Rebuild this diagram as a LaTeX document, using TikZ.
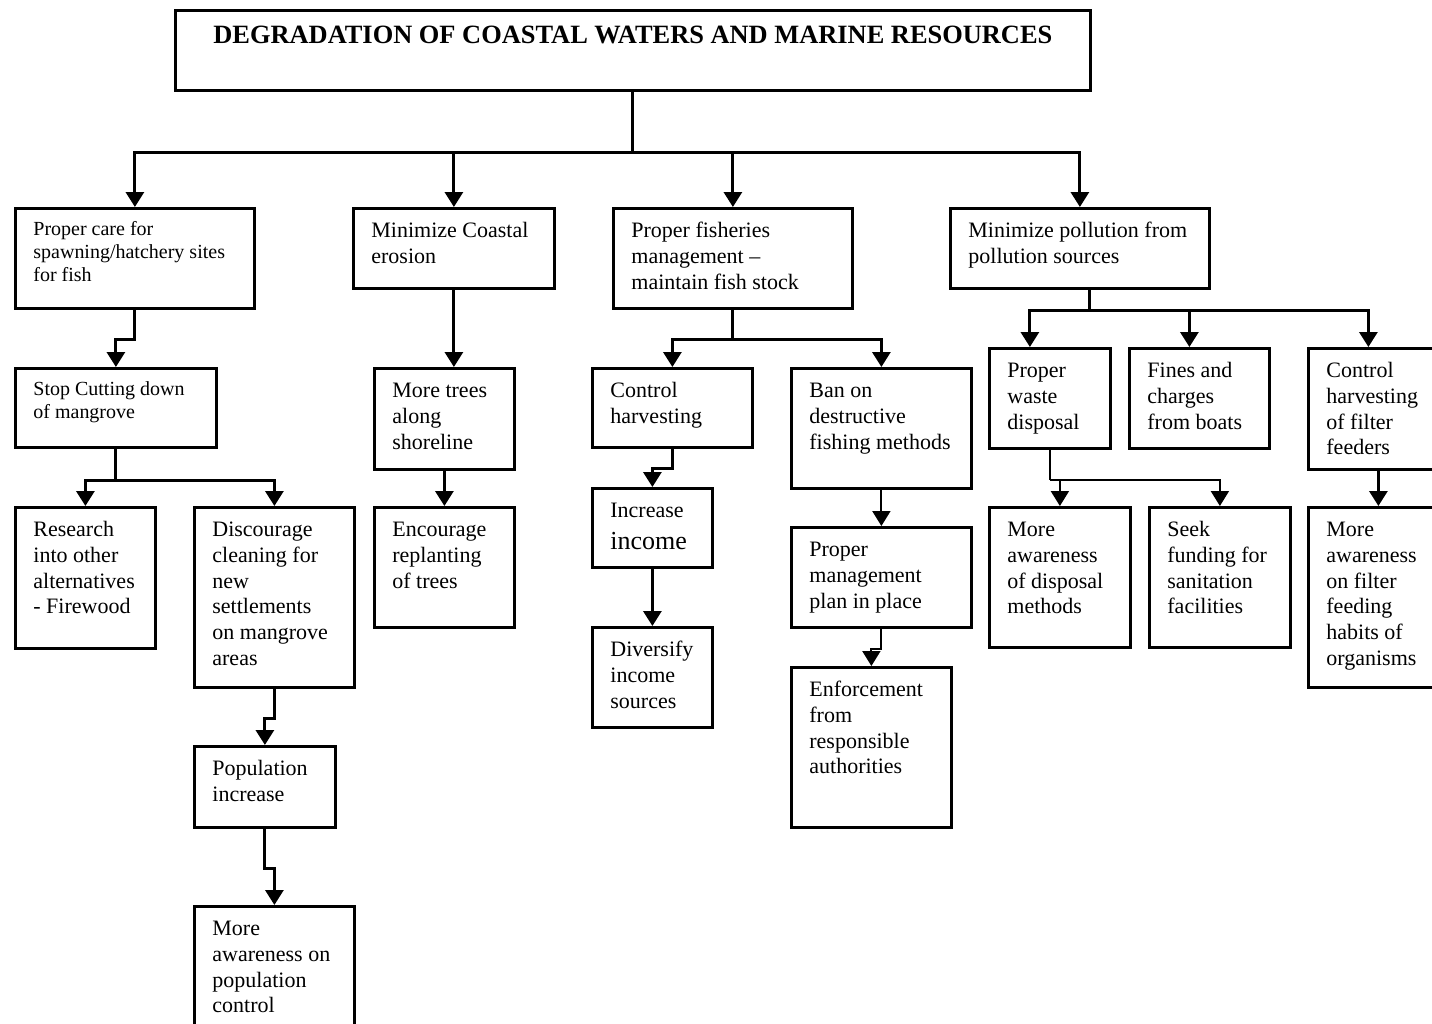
\documentclass[tikz,border=0pt]{standalone}
\usepackage{fontspec}
\setmainfont{Liberation Serif}
\usetikzlibrary{arrows.meta}
\newlength{\pxlen}
\setlength{\pxlen}{0.5pt}
% text of a box, set from its top left corner; width and height in px
\newcommand{\cell}[3]{\parbox[c][#2\pxlen][t]{\dimexpr #1\pxlen-18pt\relax}{\raggedright\rule{0pt}{14.5pt}#3}}
\newcommand{\smallcell}[3]{\parbox[c][#2\pxlen][t]{\dimexpr #1\pxlen-18pt\relax}{\fontsize{10}{11.5}\selectfont\raggedright\rule{0pt}{13.5pt}#3}}

\begin{document}
\begin{tikzpicture}[
    x=0.5pt, y=-0.5pt,
    font=\fontsize{11}{12.9}\selectfont,
    line/.style = {-{Triangle[width=9pt,length=7.5pt]}, draw=black, line width=1.5pt},
    wire/.style = {draw=black, line width=1.5pt},
    thinline/.style = {line width=1pt}
    ]
    \tikzstyle{box_style} = [draw, line width=1.4pt, anchor=north west, inner xsep=9pt, inner ysep=0pt]
    \useasboundingbox (0,0) rectangle (1432,1024);

    \node[box_style] (title) at (174,9) {\parbox[c][80\pxlen][t]{\dimexpr 915\pxlen-18pt\relax}{\centering\fontsize{13.2}{15}\selectfont\bfseries\rule{0pt}{16.5pt}DEGRADATION OF COASTAL WATERS AND MARINE RESOURCES}};

    % first row
    \node[box_style] (a1) at (14,207) {\smallcell{239}{100}{Proper care for\\spawning/hatchery sites\\for fish}};
    \node[box_style] (a2) at (352,207) {\cell{201}{80}{Minimize Coastal\\erosion}};
    \node[box_style] (a3) at (612,207) {\cell{239}{100}{Proper fisheries\\management --\\maintain fish stock}};
    \node[box_style] (a4) at (949,207) {\cell{259}{80}{Minimize pollution from\\pollution sources}};

    % second row
    \node[box_style] (b1) at (14,367) {\smallcell{201}{79}{Stop Cutting down\\of mangrove}};
    \node[box_style] (b2) at (373,367) {\cell{140}{101}{More trees\\along\\shoreline}};
    \node[box_style] (b3) at (591,367) {\cell{160}{79}{Control\\harvesting}};
    \node[box_style] (b4) at (790,367) {\cell{180}{120}{Ban on\\destructive\\fishing methods}};
    \node[box_style] (b5) at (988,347) {\cell{121}{100}{Proper\\waste\\disposal}};
    \node[box_style] (b6) at (1128,347) {\cell{140}{100}{Fines and\\charges\\from boats}};
    \node[box_style] (b7) at (1307,347) {\cell{140}{121}{Control\\harvesting\\of filter\\feeders}};

    % third row
    \node[box_style] (c1) at (14,506) {\cell{140}{141}{Research\\into other\\alternatives\\- Firewood}};
    \node[box_style] (c2) at (193,506) {\cell{160}{180}{Discourage\\cleaning for\\new\\settlements\\on mangrove\\areas}};
    \node[box_style] (c3) at (373,506) {\cell{140}{120}{Encourage\\replanting\\of trees}};
    \node[box_style] (c4) at (591,487) {\cell{120}{79}{Increase\\[3pt]{\fontsize{13}{16}\selectfont income}}};
    \node[box_style] (c5) at (790,526) {\cell{180}{100}{Proper\\management\\plan in place}};
    \node[box_style] (c6) at (988,506) {\cell{141}{140}{More\\awareness\\of disposal\\methods}};
    \node[box_style] (c7) at (1148,506) {\cell{141}{140}{Seek\\funding for\\sanitation\\facilities}};
    \node[box_style] (c8) at (1307,506) {\cell{140}{180}{More\\awareness\\on filter\\feeding\\habits of\\organisms}};

    % lower rows
    \node[box_style] (d1) at (193,745) {\cell{141}{81}{Population\\increase}};
    \node[box_style] (d2) at (591,626) {\cell{120}{100}{Diversify\\income\\sources}};
    \node[box_style] (d3) at (790,666) {\cell{160}{160}{Enforcement\\from\\responsible\\authorities}};
    \node[box_style] (e1) at (193,905) {\cell{160}{140}{More\\awareness on\\population\\control}};

    \draw[wire] (title.south) -- ++(0,61) coordinate (j0);
    \foreach \n in {a1,a2,a3,a4}
        \draw[line] (j0) -| (\n.north);

    \draw[line] (a1.south) -- ++(0,30) -| (b1.north);
    \draw[wire] (b1.south) -- ++(0,32) coordinate (j1);
    \draw[line] (j1) -| (c1.north);
    \draw[line] (j1) -| (c2.north);
    \draw[line] (c2.south) -- ++(0,30) -| (d1.north);
    \draw[line] (d1.south) -- ++(0,40) -| (e1.north);

    \draw[line] (a2.south) -- (a2.south |- b2.north);
    \draw[line] (b2.south) -- (c3.north);

    \draw[wire] (a3.south) -- ++(0,30) coordinate (j3);
    \draw[line] (j3) -| (b3.north);
    \draw[line] (j3) -| (b4.north);
    \draw[line] (b3.south) -- ++(0,20) -| (c4.north);
    \draw[line] (c4.south) -- (d2.north);
    \draw[line, thinline] (b4.south) -- (c5.north);
    \draw[line, thinline] (c5.south) -- ++(0,20) -| (d3.north);

    \draw[wire] ([xshift=5pt]a4.south) -- ++(0,21) coordinate (j4);
    \draw[line] (j4) -| ([xshift=-10pt]b5.north);
    \draw[line] (j4) -| ([xshift=-5pt]b6.north);
    \draw[line] (j4) -| ([xshift=-5pt]b7.north);
    \draw[wire, thinline] (b5.south) -- ++(0,30) coordinate (j5);
    \draw[line, thinline] (j5) -| (c6.north);
    \draw[line, thinline] (j5) -| (c7.north);
    \draw[line] (b7.south) -- (c8.north);
\end{tikzpicture}
\end{document}
